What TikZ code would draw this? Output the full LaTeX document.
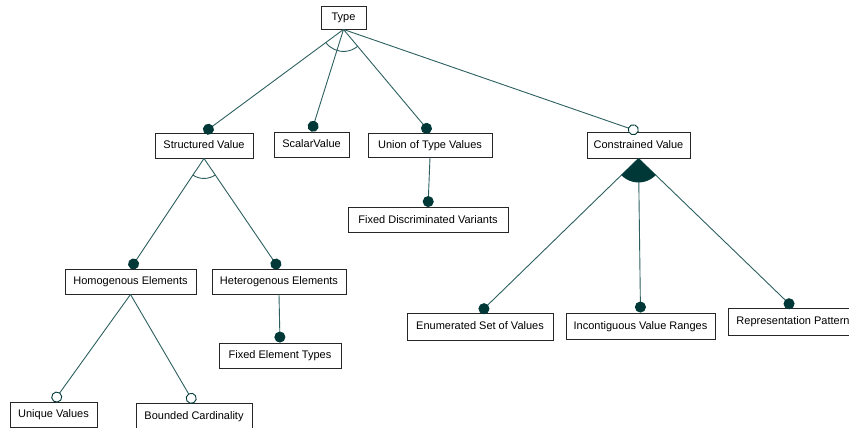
\documentclass[tikz,border=0pt]{standalone}
\usepackage{fontspec}
\setmainfont{Liberation Sans}
\usetikzlibrary{arrows.meta,calc}
\definecolor{lnc}{RGB}{45,95,95}
\definecolor{dotc}{RGB}{0,56,56}
\begin{document}
\begin{tikzpicture}[x=1pt,y=-1pt,
  box/.style={draw=black!85,line width=0.9pt,fill=white,inner sep=0pt,text height=7.5pt,text depth=1.5pt,font=\fontsize{11}{13}\selectfont},
  conn/.style={draw=lnc,line width=0.9pt},
  mand/.style={conn,-{Circle[length=11pt,color=dotc,fill=dotc]}},
  opt/.style={conn,-{Circle[open,length=11pt,color=dotc,fill=white]}},
]
\useasboundingbox (0,0) rectangle (849,428);
\node[box,minimum width=45,minimum height=23] (type) at (343.5,17.5) {Type};
\node[box,minimum width=98,minimum height=25] (struct) at (204,145.5) {Structured Value};
\node[box,minimum width=75,minimum height=25] (scalar) at (311.5,144.5) {ScalarValue};
\node[box,minimum width=124,minimum height=24] (union) at (430,145) {Union of Type Values};
\node[box,minimum width=103,minimum height=26] (constr) at (638.5,145) {Constrained Value};
\node[box,minimum width=160,minimum height=25] (fdv) at (428,220) {Fixed Discriminated Variants};
\node[box,minimum width=131,minimum height=25] (homo) at (130.5,281.5) {Homogenous Elements};
\node[box,minimum width=134,minimum height=25] (hetero) at (279,281.5) {Heterogenous Elements};
\node[box,minimum width=122,minimum height=25] (fet) at (280,355.5) {Fixed Element Types};
\node[box,minimum width=87,minimum height=25] (uniq) at (53.5,414.5) {Unique Values};
\node[box,minimum width=116,minimum height=25] (bound) at (194,416) {Bounded Cardinality};
\node[box,minimum width=146,minimum height=27] (enum) at (480,326.5) {Enumerated Set of Values};
\node[box,minimum width=149,minimum height=26] (incont) at (640.5,326) {Incontiguous Value Ranges};
\node[box,minimum width=130,minimum height=27] (repr) at (793,321.5) {Representation Pattern};

\draw[mand] (type.south) -- (struct.north);
\draw[mand] (type.south) -- (scalar.north);
\draw[mand] (type.south) -- (union.north);
\draw[opt] (type.south) -- (constr.north);
\draw[mand] (union.south) -- (fdv.north);
\draw[mand] (struct.south) -- (homo.north);
\draw[mand] (struct.south) -- (hetero.north);
\draw[mand] (hetero.south) -- (fet.north);
\draw[opt] (homo.south) -- (uniq.north);
\draw[opt] (homo.south) -- (bound.north);
\draw[mand] (constr.south) -- (enum.north);
\draw[mand] (constr.south) -- (incont.north);
\draw[mand] (constr.south) -- (repr.north);

% group arcs
\draw[conn] let \p1=($(struct.north)-(type.south)$), \p2=($(union.north)-(type.south)$),
  \n1={atan2(\y1,\x1)}, \n2={atan2(\y2,\x2)} in
  ($(type.south)+(\n1:22pt)$) arc[start angle=\n1, end angle=\n2, radius=22pt];
\draw[conn] let \p1=($(homo.north)-(struct.south)$), \p2=($(hetero.north)-(struct.south)$),
  \n1={atan2(\y1,\x1)}, \n2={atan2(\y2,\x2)} in
  ($(struct.south)+(\n1:20pt)$) arc[start angle=\n1, end angle=\n2, radius=20pt];
\fill[dotc] let \p1=($(enum.north)-(constr.south)$), \p2=($(repr.north)-(constr.south)$),
  \n1={atan2(\y1,\x1)}, \n2={atan2(\y2,\x2)} in
  (constr.south) -- ($(constr.south)+(\n1:24pt)$) arc[start angle=\n1, end angle=\n2, radius=24pt] -- cycle;
\end{tikzpicture}
\end{document}
